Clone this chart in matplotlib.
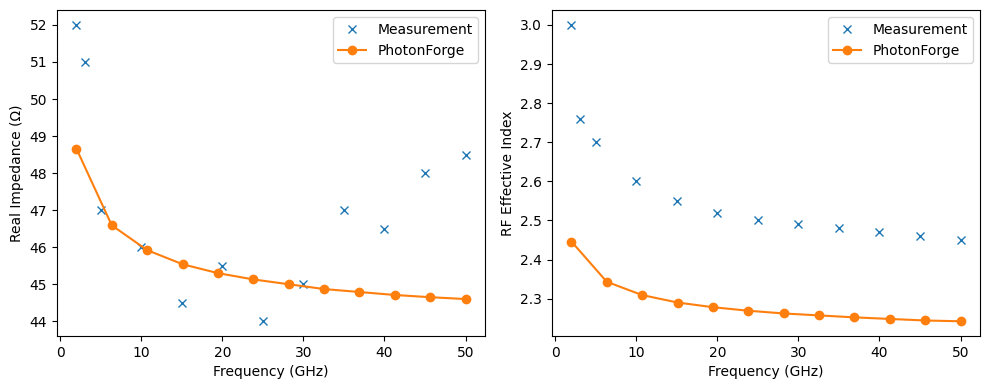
import matplotlib
matplotlib.use("Agg")
import matplotlib.pyplot as plt
import numpy as np

# measured data
meas_freq = [2, 3, 5, 10, 15, 20, 25, 30, 35, 40, 45, 50]
meas_z = [52, 51, 47, 46, 44.5, 45.5, 44, 45, 47, 46.5, 48, 48.5]
meas_n = [3.0, 2.76, 2.70, 2.60, 2.55, 2.52, 2.50, 2.49, 2.48, 2.47, 2.46, 2.45]

# simulation data
sim_freq = [2.0, 6.36, 10.73, 15.09, 19.45, 23.82, 28.18, 32.55, 36.91, 41.27, 45.64, 50.0]
sim_z = [48.66, 46.59, 45.92, 45.54, 45.30, 45.13, 45.00, 44.87, 44.79, 44.71, 44.65, 44.60]
sim_n = [2.446, 2.343, 2.309, 2.290, 2.278, 2.269, 2.262, 2.257, 2.252, 2.248, 2.244, 2.242]

fig, (ax1, ax2) = plt.subplots(1, 2, figsize=(9.89, 3.89), dpi=100)
fig.subplots_adjust(left=0.0576, right=0.9909, bottom=0.136, top=0.974, wspace=0.1565)

ax1.plot(meas_freq, meas_z, "x", label="Measurement")
ax1.plot(sim_freq, sim_z, "o-", label="PhotonForge")
ax1.set_xlabel("Frequency (GHz)")
ax1.set_ylabel("Real Impedance (Ω)")
ax1.legend()

ax2.plot(meas_freq, meas_n, "x", label="Measurement")
ax2.plot(sim_freq, sim_n, "o-", label="PhotonForge")
ax2.set_xlabel("Frequency (GHz)")
ax2.set_ylabel("RF Effective Index")
ax2.legend()

plt.savefig("out.png", dpi=100)
